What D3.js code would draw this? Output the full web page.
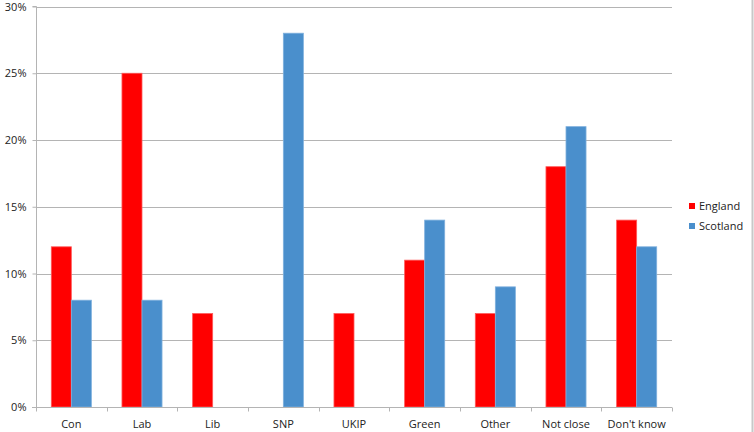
<!DOCTYPE html>
<html><head><meta charset="utf-8">
<script src="https://cdn.jsdelivr.net/npm/d3@7"></script>
<style>html,body{margin:0;padding:0;background:#fff;}svg{display:block;}</style>
</head><body>
<svg id="c" width="754" height="432"></svg>
<script>
const categories = ["Con","Lab","Lib","SNP","UKIP","Green","Other","Not close","Don't know"];
const england = [12,25,7,0,7,11,7,18,14];
const scotland = [8,8,0,28,0,14,9,21,12];
const seriesNames = ["England","Scotland"];
const yTicks = [0,5,10,15,20,25,30];
const colors = ["#ff0000","#4a8fcc"];

const svg = d3.select("#c");
const font = "'Open Sans', 'Liberation Sans', sans-serif";
const x0 = 36, x1 = 672, yTop = 6.5, yBot = 407;

const x = d3.scaleBand().domain(categories).range([x0, x1]).paddingInner(0).paddingOuter(0);
const y = d3.scaleLinear().domain([0,30]).range([yBot, yTop]);
const inner = d3.scaleBand().domain(seriesNames).range([15.3, x.bandwidth()-15.3]);

// gridlines
svg.append("g").selectAll("line").data(yTicks.filter(t=>t>0)).join("line")
  .attr("x1", x0).attr("x2", x1)
  .attr("y1", d=>Math.round(y(d))+0.5).attr("y2", d=>Math.round(y(d))+0.5)
  .attr("stroke","#b4b4b4").attr("stroke-width",1);

// bars
const data = categories.map((c,i)=>({c, vals:[england[i], scotland[i]]}));
const g = svg.append("g");
data.forEach(d=>{
  d.vals.forEach((v,j)=>{
    if (v<=0) return;
    g.append("rect")
      .attr("x", x(d.c)+inner(seriesNames[j]))
      .attr("y", y(v))
      .attr("width", inner.bandwidth())
      .attr("height", yBot - y(v))
      .attr("fill", colors[j])
      .attr("stroke", j===0 ? "#ff5a5a" : "#7fb0dd")
      .attr("stroke-width", 0.8);
  });
});

// y axis
const yAxis = d3.axisLeft(y).tickValues(yTicks).tickFormat(d=>d+"%").tickSize(4).tickPadding(6);
const ya = svg.append("g").attr("transform",`translate(${x0+0.5},0)`).call(yAxis);
ya.select(".domain").attr("stroke","#b4b4b4").attr("d",`M-4,${yTop}H0V${yBot}`);
ya.selectAll(".tick line").attr("stroke","#b4b4b4");
ya.selectAll("text").attr("font-family",font).attr("font-size","11px").attr("fill","#222");

// x axis
const xa = svg.append("g").attr("transform",`translate(0,${Math.round(yBot)+0.5})`);
xa.append("line").attr("x1",x0-4).attr("x2",x1).attr("stroke","#b4b4b4");
const bounds = categories.map(c=>x(c)).concat([x1]);
xa.selectAll("line.t").data(bounds).join("line").attr("class","t")
  .attr("x1",d=>Math.round(d)+0.5).attr("x2",d=>Math.round(d)+0.5).attr("y1",0).attr("y2",4).attr("stroke","#b4b4b4");
xa.selectAll("text").data(categories).join("text")
  .attr("x", d=>x(d)+x.bandwidth()/2).attr("y", 20)
  .attr("text-anchor","middle").attr("font-family",font).attr("font-size","11px").attr("fill","#222")
  .text(d=>d);

// legend
const lg = svg.append("g").attr("transform","translate(689,203)");
seriesNames.forEach((s,i)=>{
  lg.append("rect").attr("x",0).attr("y",i*20).attr("width",6).attr("height",6).attr("fill",colors[i]);
  lg.append("text").attr("x",10).attr("y",i*20+7).attr("font-family",font).attr("font-size","11px").attr("fill","#222").text(s);
});

// right border
svg.append("line").attr("x1",752.5).attr("x2",752.5).attr("y1",0).attr("y2",432).attr("stroke","#c8c8c8").attr("stroke-width",2);
</script>
</body></html>
